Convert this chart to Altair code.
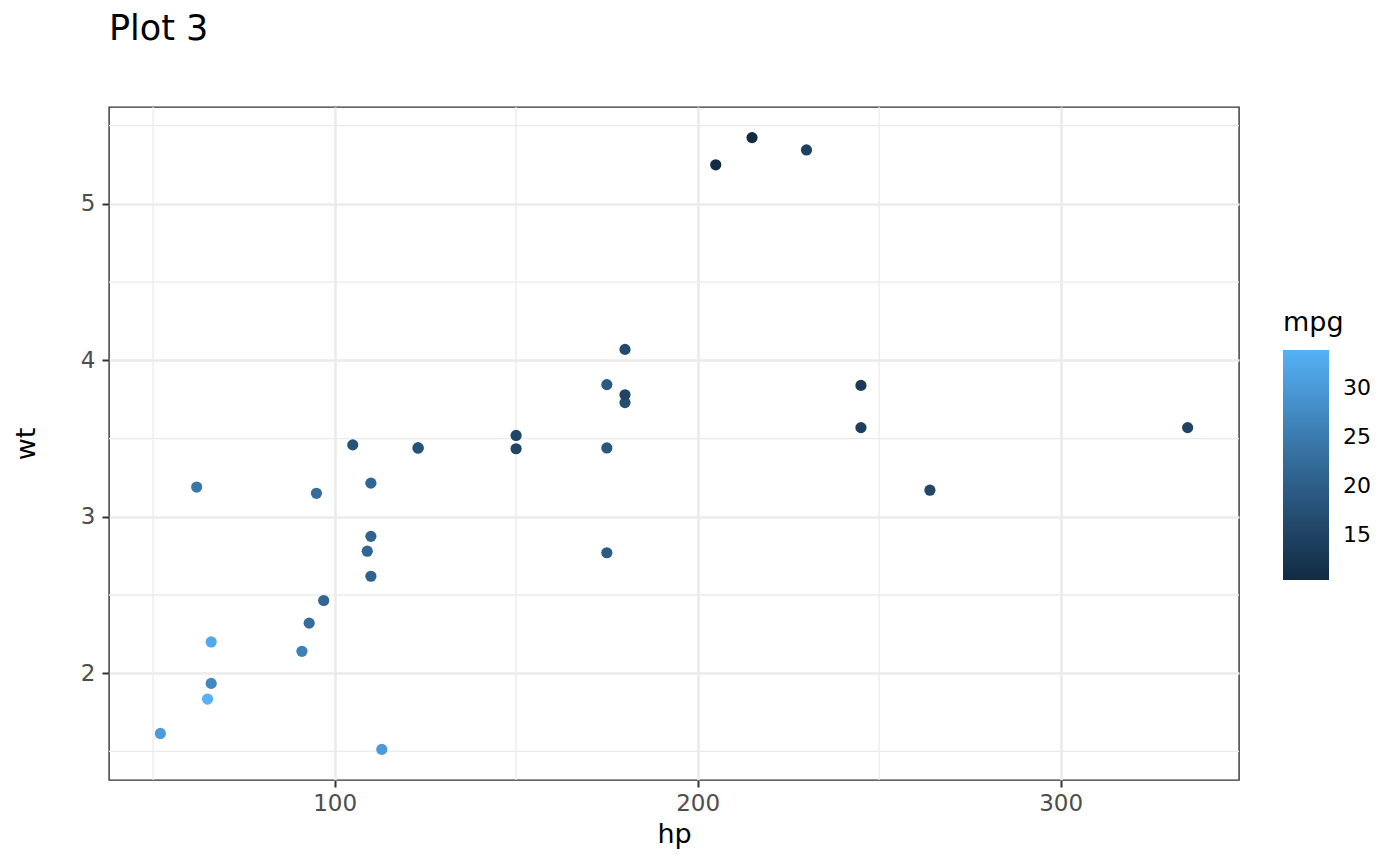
import altair as alt
import pandas as pd

# mtcars: hp, wt, mpg
hp = [110, 110, 93, 110, 175, 105, 245, 62, 95, 123, 123, 180, 180, 180, 205, 215,
      230, 66, 52, 65, 97, 150, 150, 245, 175, 66, 91, 113, 264, 175, 335, 109]
wt = [2.620, 2.875, 2.320, 3.215, 3.440, 3.460, 3.570, 3.190, 3.150, 3.440, 3.440,
      4.070, 3.730, 3.780, 5.250, 5.424, 5.345, 2.200, 1.615, 1.835, 2.465, 3.520,
      3.435, 3.840, 3.845, 1.935, 2.140, 1.513, 3.170, 2.770, 3.570, 2.780]
mpg = [21.0, 21.0, 22.8, 21.4, 18.7, 18.1, 14.3, 24.4, 22.8, 19.2, 17.8, 16.4, 17.3,
       15.2, 10.4, 10.4, 14.7, 32.4, 30.4, 33.9, 21.5, 15.5, 15.2, 13.3, 19.2, 27.3,
       26.0, 30.4, 15.8, 19.7, 15.0, 21.4]

x_ticks = [100, 200, 300]
y_ticks = [2, 3, 4, 5]
x_minor = [50, 150, 250]
y_minor = [1.5, 2.5, 3.5, 4.5, 5.5]
legend_ticks = [15, 20, 25, 30]

df = pd.DataFrame({"hp": hp, "wt": wt, "mpg": mpg})
df_vx = pd.DataFrame({"hp": x_minor})
df_hy = pd.DataFrame({"wt": y_minor})

FONT = "DejaVu Sans"

xr = max(hp) - min(hp)
yr = max(wt) - min(wt)
x_scale = alt.Scale(domain=[min(hp) - 0.05 * xr, max(hp) + 0.05 * xr], nice=False, zero=False)
y_scale = alt.Scale(domain=[min(wt) - 0.05 * yr, max(wt) + 0.05 * yr], nice=False, zero=False)

common_axis = dict(
    grid=True, gridColor="#EBEBEB", gridWidth=2.6, domain=False,
    ticks=True, tickColor="#333333", tickWidth=2, tickSize=7,
    labelFont=FONT, labelFontSize=23, labelColor="#4D4D4D",
    titleFont=FONT, titleFontSize=27, titleFontWeight="normal", titleColor="black",
    labelFlush=False,
)
x_axis = alt.Axis(values=x_ticks, title="hp", labelPadding=5, titlePadding=6, **common_axis)
y_axis = alt.Axis(values=y_ticks, title="wt", labelPadding=7, titlePadding=40, **common_axis)

minor_v = alt.Chart(df_vx).mark_rule(color="#EBEBEB", strokeWidth=1.3).encode(
    x=alt.X("hp:Q", scale=x_scale, axis=x_axis)
)
minor_h = alt.Chart(df_hy).mark_rule(color="#EBEBEB", strokeWidth=1.3).encode(
    y=alt.Y("wt:Q", scale=y_scale, axis=y_axis)
)

points = alt.Chart(df).mark_circle(size=125, opacity=1).encode(
    x=alt.X("hp:Q", scale=x_scale, axis=x_axis),
    y=alt.Y("wt:Q", scale=y_scale, axis=y_axis),
    color=alt.Color(
        "mpg:Q",
        scale=alt.Scale(domain=[min(mpg), max(mpg)], range=["#132B43", "#56B1F7"],
                        interpolate="lab", nice=False, zero=False),
        legend=alt.Legend(
            orient="none", legendX=1174, legendY=203, direction="vertical",
            gradientLength=230, gradientThickness=46, gradientStrokeWidth=0,
            values=legend_ticks, title="mpg", titleFont=FONT, titleFontSize=27,
            titleFontWeight="normal", titleColor="black", titlePadding=13,
            labelFont=FONT, labelFontSize=22, labelColor="black", labelOffset=14,
            labelOverlap=False, padding=0,
        ),
    ),
)

chart = alt.layer(minor_v, minor_h, points).properties(
    width=1130,
    height=673,
    autosize=alt.AutoSizeParams(type="none"),
    padding={"left": 101, "top": 99, "right": 140, "bottom": 70},
    background="white",
    title=alt.TitleParams(
        "Plot 3", anchor="start", frame="group", font=FONT, fontSize=35,
        fontWeight="normal", color="black", baseline="bottom", offset=24,
    ),
).configure_view(stroke="#333333", strokeWidth=1.4)

chart.save("out.html", embed_options={"renderer": "svg", "actions": False})
